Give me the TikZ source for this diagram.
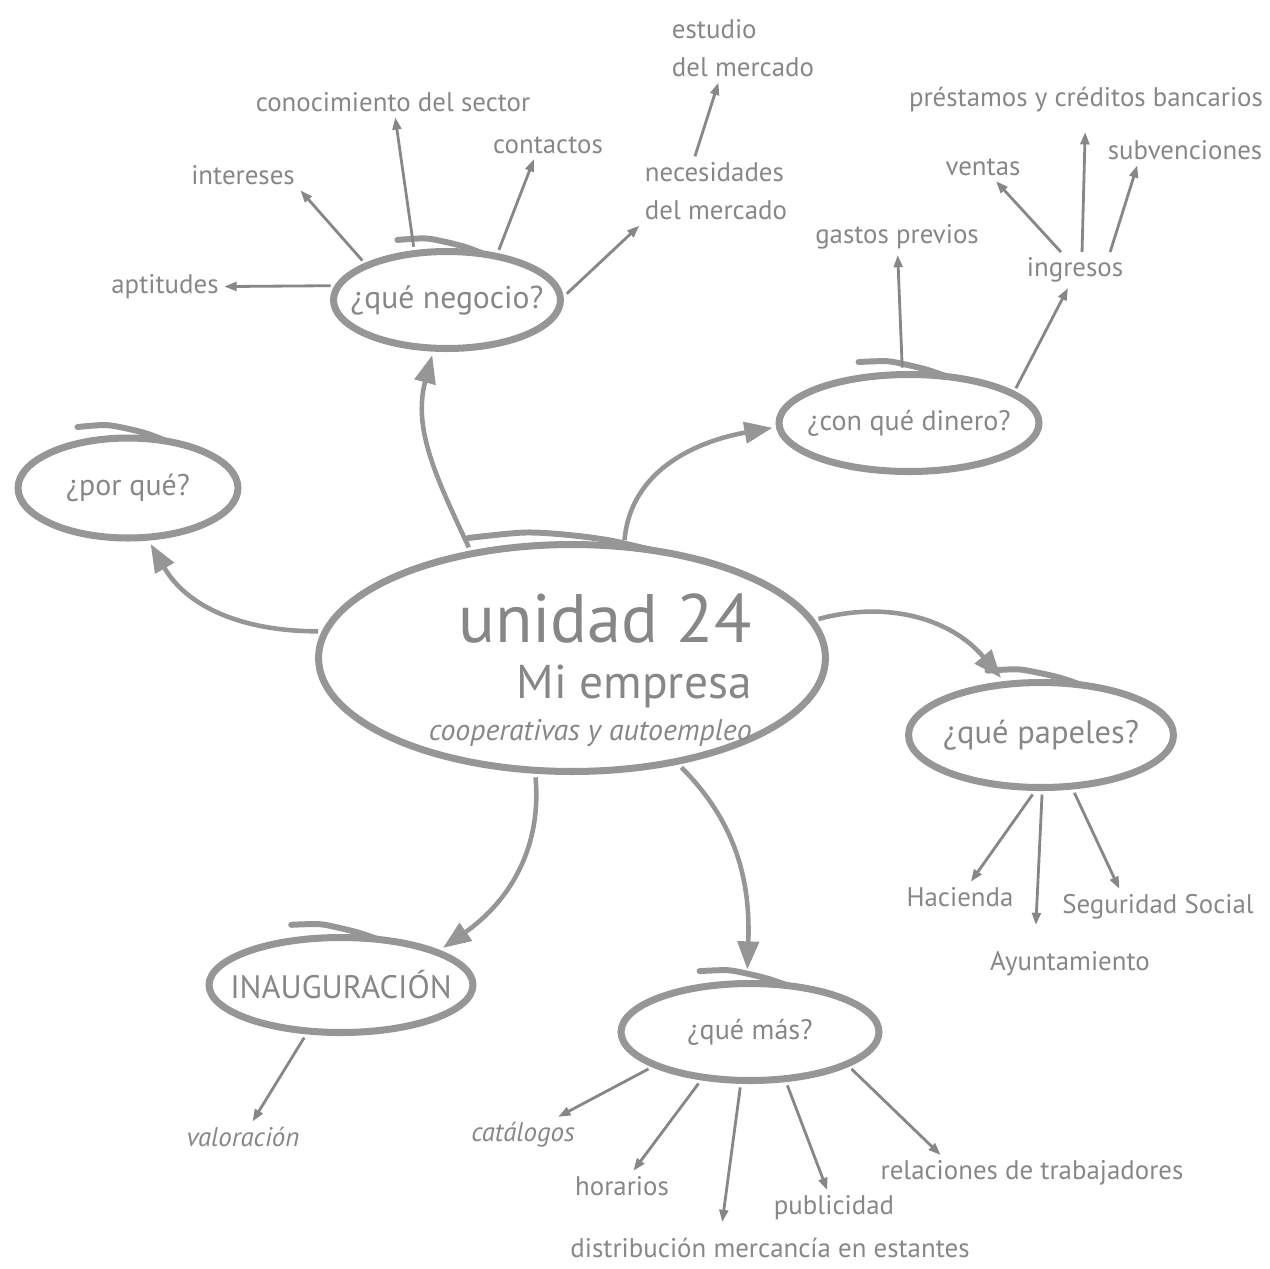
\documentclass[tikz,border=0pt]{standalone}
\usepackage{fontspec}
\setmainfont{PT Sans}
\usetikzlibrary{shapes.geometric,arrows.meta}
\definecolor{inkgray}{RGB}{135,135,135}
\definecolor{ringgray}{RGB}{150,150,150}
\begin{document}
\begin{tikzpicture}[x=0.02cm,y=-0.02cm,
  ring/.style={draw=ringgray,line width=4pt,line cap=round},
  bubble/.style={ring,ellipse,inner xsep=-30pt,inner ysep=0pt,outer sep=4pt,
    text=inkgray,font=\fontsize{16}{19}\selectfont},
  leaf/.style={text=inkgray,inner sep=3pt,font=\fontsize{15.3}{22}\selectfont},
  main/.style={draw=ringgray,line width=2.6pt,-{Triangle[length=16pt,width=12pt]}},
  twig/.style={draw=inkgray,line width=1.6pt,-{Triangle[length=7pt,width=5pt]}}]
\useasboundingbox (0,0) rectangle (1270,1268);

% Centre
\node[bubble,minimum width=10.14cm,minimum height=4.54cm] (unit) at (572,658) {};
\node[text=inkgray,align=right,anchor=north east,inner sep=0pt,
  font=\fontsize{17}{24}\selectfont] (title) at (752,593)
  {{\fontsize{39}{40}\selectfont unidad 24}\\[8pt]
   {\fontsize{27}{30}\selectfont Mi empresa}\\
   {\itshape cooperativas y autoempleo}};

% Questions
\node[bubble,minimum width=4.54cm,minimum height=1.94cm,font=\fontsize{18}{20}\selectfont] (neg) at (447,300) {¿qué negocio?};
\node[bubble,minimum width=4.4cm,minimum height=2.0cm,font=\fontsize{17}{20}\selectfont] (por) at (128,488) {¿por qué?};
\node[bubble,minimum width=5.2cm,minimum height=1.94cm] (din) at (909,423) {¿con qué dinero?};
\node[bubble,minimum width=5.3cm,minimum height=2.1cm,font=\fontsize{18.5}{20}\selectfont] (pap) at (1041,735) {¿qué papeles?};
\node[bubble,minimum width=5.16cm,minimum height=1.94cm] (mas) at (750,1032) {¿qué más?};
\node[bubble,minimum width=5.28cm,minimum height=1.9cm,font=\fontsize{18.5}{20}\selectfont] (ina) at (341,985) {INAUGURACIÓN};
\foreach \b in {unit,neg,por,din,pap,mas,ina}
  \draw[ring,line width=3.4pt] plot[smooth] coordinates
    {([shift={(-2pt,5pt)}]\b.132) ([yshift=4pt]\b.112) ([yshift=1.5pt]\b.92) ([yshift=-1pt]\b.72) ([yshift=-4pt]\b.54)};

% Leaves
\node[leaf] (apt) at (165,287) {aptitudes};
\node[leaf] (int) at (243,175) {intereses};
\node[leaf] (con) at (393,102) {conocimiento del sector};
\node[leaf] (cts) at (548,145) {contactos};
\node[leaf,align=left] (nec) at (716,191) {necesidades\\del mercado};
\node[leaf,align=left] (est) at (743,48) {estudio\\del mercado};
\node[leaf] (gas) at (897,237) {gastos previos};
\node[leaf] (ing) at (1075,270) {ingresos};
\node[leaf] (ven) at (983,167) {ventas};
\node[leaf] (pre) at (1086,100) {préstamos y créditos bancarios};
\node[leaf] (sub) at (1185,150) {subvenciones};
\node[leaf] (hac) at (960,897) {Hacienda};
\node[leaf] (ayu) at (1070,964) {Ayuntamiento};
\node[leaf] (seg) at (1158,907) {Seguridad Social};
\node[leaf,font=\fontsize{15.3}{22}\selectfont\itshape] (val) at (243,1137) {valoración};
\node[leaf,font=\fontsize{15.3}{22}\selectfont\itshape] (cat) at (523,1135) {catálogos};
\node[leaf] (hor) at (622,1186) {horarios};
\node[leaf] (dis) at (770,1248) {distribución mercancía en estantes};
\node[leaf] (pub) at (834,1208) {publicidad};
\node[leaf] (rel) at (1032,1173) {relaciones de trabajadores};

% Main branches
\draw[main] (unit.133) to[out=115,in=255] (neg.255);
\draw[main] (unit.174) to[out=180,in=300] (por.292);
\draw[main] (unit.66) to[out=85,in=190] (din.182);
\draw[main] (unit.9) to[out=15,in=130] (pap.125);
\draw[main,shorten >=4pt] (unit.315) to[out=-45,in=88] (mas.93);
\draw[main] (unit.253) to[out=-85,in=35] (ina.20);

% Twigs
\draw[twig] (neg.173) -- (apt);
\draw[twig] (neg.155) -- (int.south east);
\draw[twig] (neg.122) -- (con);
\draw[twig] (neg.44) -- ([xshift=-8pt]cts.south);
\draw[twig] (neg.3) -- (nec.south west);
\draw[twig] ([xshift=-12pt]nec.north) -- ([xshift=-14pt]est.south);
\draw[twig] (din.97) -- (gas);
\draw[twig] (din.18) -- ([xshift=-4pt]ing.south);
\draw[twig] ([xshift=-8pt]ing.north) -- (ven);
\draw[twig,shorten >=8pt] ([xshift=4pt]ing.north) -- (pre);
\draw[twig] ([xshift=20pt]ing.north) -- ([xshift=20pt]sub.south west);
\draw[twig] (pap.262) -- (hac);
\draw[twig,shorten >=12pt] (pap.271) -- ([xshift=-20pt]ayu.north);
\draw[twig] (pap.300) -- ([xshift=-22pt]seg.north);
\draw[twig] (ina.235) -- (val);
\draw[twig] (mas.200) -- ([xshift=20pt]cat.north);
\draw[twig] (mas.225) -- (hor);
\draw[twig,shorten >=6pt] (mas.260) -- ([xshift=-28pt]dis.north);
\draw[twig] (mas.305) -- (pub);
\draw[twig] (mas.340) -- ([xshift=-52pt]rel.north);
\end{tikzpicture}
\end{document}
